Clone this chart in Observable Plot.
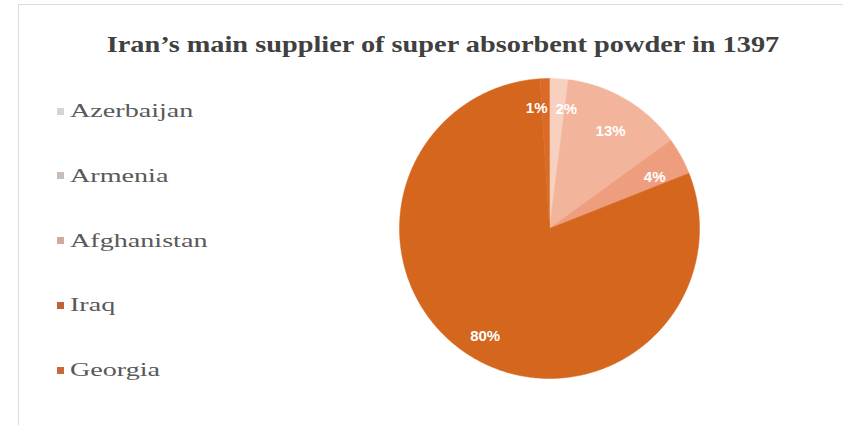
<!DOCTYPE html>
<html>
<head>
<meta charset="utf-8">
<script src="https://cdn.jsdelivr.net/npm/d3@7"></script>
<script src="https://cdn.jsdelivr.net/npm/@observablehq/plot@0.6"></script>
<style>
  html, body { margin: 0; padding: 0; background: #fff; }
  #wrap { position: relative; width: 843px; height: 425px; overflow: hidden; }
  #frame { position: absolute; left: 18px; top: 4px; width: 900px; height: 500px; border: 1px solid #dcdcdc; box-sizing: border-box; }
  #title { position: absolute; left: 0; top: 31px; width: 886px; text-align: center;
           font-family: "Liberation Serif", "DejaVu Serif", serif; font-weight: bold; font-size: 24px; color: #404040; white-space: nowrap;
           transform: scaleX(1.18); transform-origin: 443px 0; }
  .leg { position: absolute; left: 57px; font-family: "Liberation Serif", "Times New Roman", serif; font-size: 19px; color: #595959; display: flex; align-items: center; white-space: nowrap; }
  .leg span.sw { display: inline-block; width: 7px; height: 7px; margin-right: 6px; }
  .leg span.tx { display: inline-block; transform: scaleX(1.48); transform-origin: 0 50%; font-family: "Liberation Serif", "Times New Roman", serif; }
  #chart { position: absolute; left: 0; top: 0; }
</style>
</head>
<body>
<div id="wrap">
  <div id="frame"></div>
  <div id="title">Iran’s main supplier of super absorbent powder in 1397</div>
  <div id="legend"></div>
  <div id="chart"></div>
</div>
<script>
const countries = ["Azerbaijan", "Armenia", "Afghanistan", "Iraq", "Georgia"];
const shares = [2, 13, 4, 80, 1];
const colors = ["#F7D0BF", "#F2B49B", "#EE9E7E", "#D5661E", "#D96B27"];
const legendColors = ["#D9D2CF", "#C9BDB8", "#D2A8A0", "#C0623A", "#C8683C"];

// legend
const legend = document.getElementById("legend");
countries.forEach((c, i) => {
  const d = document.createElement("div");
  d.className = "leg";
  d.style.top = (100 + i * 64.8) + "px";
  d.innerHTML = `<span class="sw" style="background:${legendColors[i]}"></span><span class="tx">${c}</span>`;
  legend.appendChild(d);
});

// pie geometry via d3.pie
const pieGen = d3.pie().sort(null).value(d => d.share);
const rows = countries.map((c, i) => ({country: c, share: shares[i]}));
const arcs = pieGen(rows);
const poly = [];
const labels = [];
arcs.forEach(a => {
  const n = Math.max(2, Math.ceil((a.endAngle - a.startAngle) / 0.01));
  poly.push({country: a.data.country, x: 0, y: 0});
  for (let k = 0; k <= n; k++) {
    const t = a.startAngle + (a.endAngle - a.startAngle) * k / n;
    poly.push({country: a.data.country, x: Math.sin(t), y: Math.cos(t)});
  }
  poly.push({country: a.data.country, x: 0, y: 0});
  const m = (a.startAngle + a.endAngle) / 2;
  const small = a.data.share <= 2;
  const r = small ? 0.84 : 0.8;
  labels.push({country: a.data.country, x: r * Math.sin(m), y: r * Math.cos(m) - 0.04,
               text: a.data.share + "%", anchor: small ? (Math.sin(m) < 0 ? "end" : "start") : "middle"});
});

const textOpts = {x: "x", y: "y", text: "text", fill: "white", fontSize: 15, fontWeight: 600, fontFamily: "Liberation Sans, Arial, sans-serif"};
const chart = Plot.plot({
  width: 843,
  height: 425,
  margin: 0,
  x: {domain: [-1, 1], range: [399, 699], axis: null},
  y: {domain: [-1, 1], range: [378, 78], axis: null},
  color: {domain: countries, range: colors},
  marks: [
    Plot.line(poly, {x: "x", y: "y", z: "country", fill: "country", stroke: "country", strokeWidth: 0.5, curve: "linear"}),
    Plot.text(labels.filter(d => d.anchor === "middle"), {...textOpts, textAnchor: "middle"}),
    Plot.text(labels.filter(d => d.anchor === "end"), {...textOpts, textAnchor: "end", dx: 2}),
    Plot.text(labels.filter(d => d.anchor === "start"), {...textOpts, textAnchor: "start", dx: -2})
  ]
});
chart.style.background = "transparent";
document.getElementById("chart").appendChild(chart);
</script>
</body>
</html>
